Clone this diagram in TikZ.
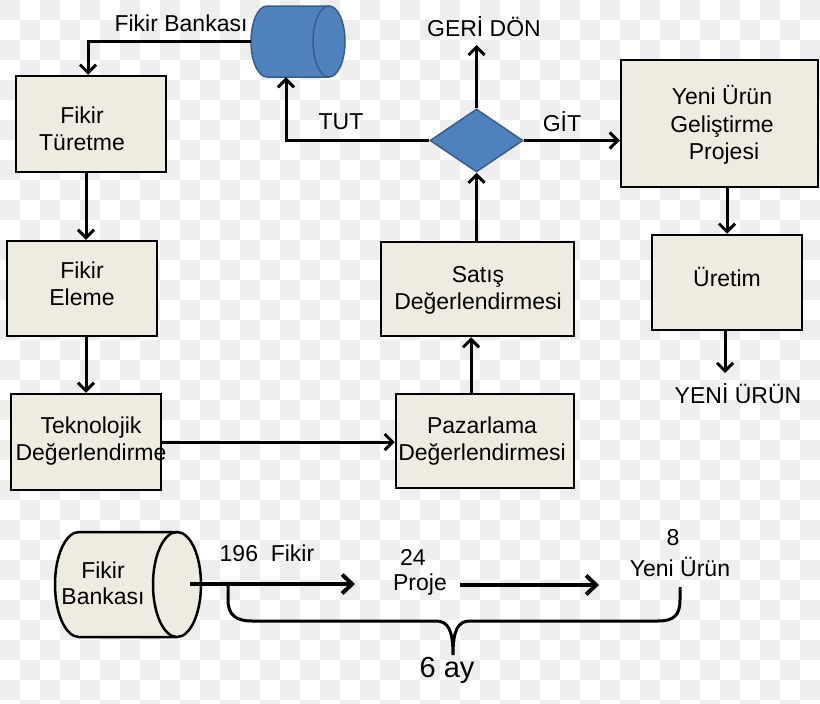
\documentclass[tikz,border=0pt]{standalone}
\usepackage{fontspec}
\setmainfont{Liberation Sans}
\usetikzlibrary{arrows.meta,shapes.geometric,calc}
\definecolor{beige}{HTML}{EEECE1}
\definecolor{cblue}{HTML}{4F81BD}
\definecolor{cbord}{HTML}{385D8A}
\definecolor{chk}{HTML}{EEEEEE}
\tikzset{
  box/.style={rectangle, draw=black, fill=beige, line width=2.5pt, inner sep=0pt},
  txt/.style={font=\fontsize{23}{27}\selectfont, align=center, inner sep=1pt},
  arr/.style={line width=3pt, -{Straight Barb[length=8pt,width=16pt]}},
  barr/.style={line width=4pt, -{Straight Barb[length=10pt,width=19pt]}},
  brace/.style={line width=3pt},
}
\begin{document}
\begin{tikzpicture}[x=1pt,y=1pt]
\useasboundingbox (0,0) rectangle (820,-704);
% background checkerboard
\fill[white] (0,0) rectangle (820,-704);
\begin{scope}
\clip (0,0) rectangle (820,-704);
\foreach \i in {0,2,...,40}{\foreach \j in {0,2,...,34}{
  \fill[chk] (\i*20,-\j*20) rectangle ++(20,-20);
  \fill[chk] (\i*20+20,-\j*20-20) rectangle ++(20,-20);}}
\end{scope}

% boxes
\node[box, minimum width=150pt, minimum height=96pt] (b1) at (91,-124) {};
\node[txt] (t1) at (82,-129) {Fikir\\Türetme};
\node[box, minimum width=150pt, minimum height=95pt] (b2) at (82,-288.5) {};
\node[txt] (t2) at (82,-284) {Fikir\\Eleme};
\node[box, minimum width=150pt, minimum height=96pt] (b3) at (86,-442) {};
\node[txt] (t3) at (91,-441) {Teknolojik\\Değerlendirme};
\node[box, minimum width=178pt, minimum height=94pt] (b4) at (485,-441) {};
\node[txt] (t4) at (482,-441) {Pazarlama\\Değerlendirmesi};
\node[box, minimum width=193pt, minimum height=94pt] (b5) at (477.5,-289) {};
\node[txt] (t5) at (478,-290) {Satış\\Değerlendirmesi};
\node[box, minimum width=197pt, minimum height=127pt] (b6) at (719.5,-123.5) {};
\node[txt, font=\fontsize{23}{27.5}\selectfont] (t6) at (722,-125) {Yeni Ürün\\Geliştirme\\\hspace*{4pt}Projesi};
\node[box, minimum width=150pt, minimum height=95pt] (b7) at (727,-282.5) {};
\node[txt] (t7) at (727,-277) {Üretim};

% diamond
\node[diamond, fill=cblue, draw=cbord, line width=1.5pt, minimum width=93pt, minimum height=63pt, inner sep=0pt] (dia) at (476.5,-140.5) {};

% top cylinder
\node[inner sep=0pt, minimum width=94pt, minimum height=71pt] (cyl1) at (298,-41.5) {};
\fill[cblue] (329,-6) -- (267,-6) arc[start angle=90,end angle=270,x radius=16pt,y radius=35.5pt] -- (329,-77) arc[start angle=270,end angle=450,x radius=16pt,y radius=35.5pt] -- cycle;
\draw[cbord, line width=1.5pt] (329,-6) -- (267,-6) arc[start angle=90,end angle=270,x radius=16pt,y radius=35.5pt] -- (329,-77);
\draw[cbord, line width=1.5pt] (329,-41.5) ellipse[x radius=16pt,y radius=35.5pt];

% labels
\node[txt] (lfb) at (181,-23) {Fikir Bankası};
\node[txt] (lgeri) at (484,-27) {GERİ DÖN};
\node[txt] (lgit) at (562,-122) {GİT};
\node[txt] (ltut) at (341,-122) {TUT};
\node[txt] (lyeni) at (738,-394) {YENİ ÜRÜN};

% connectors
\draw[arr] (cyl1.west) -| ([xshift=-3pt]b1.north);
\draw[arr] ([xshift=-5pt]b1.south) -- ([xshift=4pt]b2.north);
\draw[arr] ([xshift=4pt]b2.south) -- (b3.north);
\draw[arr] (b3.east) -- (b3.east -| b4.west);
\draw[arr] ([xshift=-14pt]b4.north) -- ([xshift=-14pt]b4.north |- b5.south);
\draw[arr] (b5.north -| dia.south) -- (dia.south);
\coordinate (gerie) at (476.5,-45);
\draw[arr] (dia.north) -- (gerie);
\draw[arr] (dia.west) -| ([xshift=-12pt]cyl1.south);
\draw[arr] (dia.east) -- (dia.east -| b6.west);
\draw[arr] (b6.south -| b7.north) -- (b7.north);
\coordinate (yend) at (725,-373);
\draw[arr] (b7.south -| yend) -- (yend);

% bottom cylinder
\node[inner sep=0pt, minimum width=146pt, minimum height=105pt] (cyl2) at (128,-584.5) {};
\fill[beige] (177,-532) -- (79,-532) arc[start angle=90,end angle=270,x radius=24pt,y radius=52.5pt] -- (177,-637) arc[start angle=270,end angle=450,x radius=24pt,y radius=52.5pt] -- cycle;
\draw[line width=2.5pt] (177,-532) -- (79,-532) arc[start angle=90,end angle=270,x radius=24pt,y radius=52.5pt] -- (177,-637);
\draw[line width=2.5pt] (177,-584.5) ellipse[x radius=24pt,y radius=52.5pt];
\node[txt, font=\fontsize{23}{26}\selectfont] (tfb2) at (103,-583) {Fikir\\Bankası};

% bottom labels
\node[txt] (n196) at (267,-553) {196\ \ Fikir};
\node[txt] (n24) at (413,-557) {24};
\node[txt] (nproje) at (420,-585) {Proje};
\node[txt] (n8) at (673,-538) {8};
\node[txt] (nyeni) at (680,-567) {Yeni Ürün};
\node[font=\fontsize{29}{31}\selectfont, inner sep=1pt] (n6ay) at (447,-670) {6 ay};

% bottom arrows
\coordinate (a1s) at (190,-584);
\coordinate (a1e) at (355,-584);
\draw[barr] (a1s) -- (a1e);
\coordinate (a2s) at (460,-585);
\coordinate (a2e) at (599,-585);
\draw[barr] (a2s) -- (a2e);

% brace
\coordinate (bl) at (228,-584);
\coordinate (br) at (680,-587);
\draw[brace] (bl) -- (228,-600) .. controls (228,-615) and (236,-621) .. (252,-621) -- (436,-621) .. controls (448,-621) and (453,-630) .. (453,-655) .. controls (453,-630) and (458,-621) .. (470,-621) -- (658,-621) .. controls (674,-621) and (680,-615) .. (680,-600) -- (br);
\end{tikzpicture}
\end{document}
